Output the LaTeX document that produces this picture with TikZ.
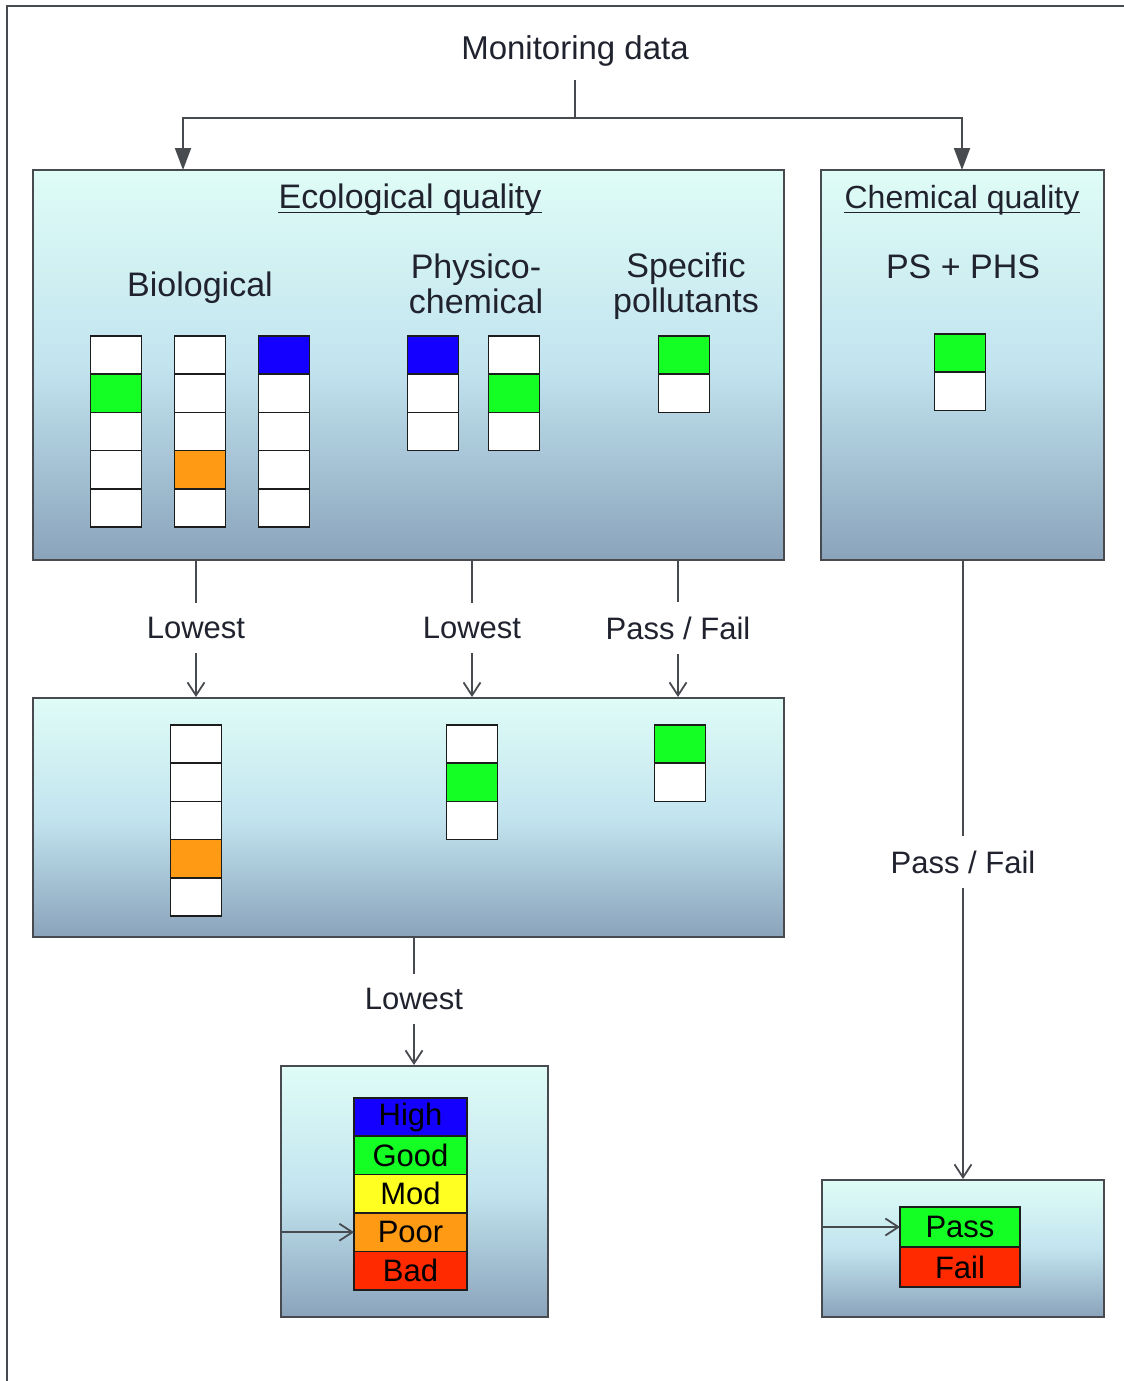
\documentclass[tikz,border=0pt]{standalone}
\usepackage{fontspec}
\setmainfont{Liberation Sans}
\usetikzlibrary{arrows.meta,positioning}
\definecolor{cInk}{HTML}{20222E}
\definecolor{cEdge}{HTML}{474B50}
\definecolor{cCell}{HTML}{1C1C1C}
\definecolor{cTop}{HTML}{DFFCF6}
\definecolor{cMid}{HTML}{C2E4EF}
\definecolor{cBot}{HTML}{8AA3BB}
\definecolor{cHigh}{HTML}{1400FF}
\definecolor{cGood}{HTML}{14FF24}
\definecolor{cMod}{HTML}{FFFF22}
\definecolor{cPoor}{HTML}{FF9A14}
\definecolor{cBad}{HTML}{FF2A00}
\tikzset{
  frame/.style={draw=cEdge,line width=0.9pt},
  panel/.style={draw=cEdge,line width=1pt,top color=cTop,bottom color=cBot,middle color=cMid,inner sep=0pt},
  cell/.style={draw=cCell,line width=0.8pt,minimum width=25.5pt,minimum height=19.1pt,inner sep=0pt,outer sep=0pt},
  grade/.style={cell,minimum width=56.5pt,minimum height=19.2pt,font=\fontsize{15.5}{16}\selectfont,text=black},
  head/.style={font=\fontsize{16.5}{18}\selectfont,text=cInk,inner ysep=6.5pt},
  title/.style={font=\fontsize{17}{18}\selectfont,text=cInk,inner sep=0pt},
  uline/.style={draw=cInk,line width=0.6pt},
  sub/.style={font=\fontsize{17}{17.5}\selectfont,text=cInk,align=center},
  flowlbl/.style={font=\fontsize{15.5}{16}\selectfont,text=cInk,inner ysep=7pt},
  conn/.style={draw=cEdge,line width=1pt},
  tri/.style={conn,-{Triangle[length=11pt,width=8pt]}},
  barb/.style={draw=cEdge,line width=0.9pt,-{Straight Barb[length=6.5pt,width=8.5pt]}},
}
% one column of grade cells: name, x, top y, fill colours
\newcommand{\gradebar}[4]{%
  \foreach \clr [count=\k] in {#4}
    \node[cell,fill=\clr] (#1-\k) at (#2,{#3+38.2*(\k-0.5)}) {};}

\begin{document}
\begin{tikzpicture}[x=0.5pt,y=-0.5pt]
  \useasboundingbox (0,0) rectangle (1124,1381);
  \draw[frame] (7,1381) -- (7,6) -- (1124,6);

  % source and split
  \node[head] (mon) at (575,51) {Monitoring data};
  \coordinate (split) at (575,118);
  \coordinate (ecoin) at (183,170);
  \coordinate (chemin) at (962,170);

  % panels
  \node[panel,minimum width=375.5pt,minimum height=195pt] (eco) at (408.5,365) {};
  \node[panel,minimum width=141.5pt,minimum height=195pt] (chem) at (962.5,365) {};
  \node[panel,minimum width=375.5pt,minimum height=119.5pt] (mid) at (408.5,817.5) {};
  \node[panel,minimum width=133.5pt,minimum height=125.5pt] (scl) at (414.5,1191.5) {};
  \node[panel,minimum width=141pt,minimum height=68.5pt] (pf) at (963,1248.5) {};

  \draw[conn] (mon.south) -- (split);
  \draw[tri] (split) -| (ecoin);
  \draw[tri] (split) -| (chemin);

  % headings
  \node[title] (ecot) at (410,200) {Ecological quality};
  \node[title,font=\fontsize{16}{18}\selectfont] (chemt) at (962,200) {Chemical quality};
  \draw[uline] ([yshift=-2pt]ecot.base west) -- ([yshift=-2pt]ecot.base east);
  \draw[uline] ([yshift=-2pt]chemt.base west) -- ([yshift=-2pt]chemt.base east);
  \node[sub] (bio) at (200,288) {Biological};
  \node[sub] (phy) at (476,284) {Physico-\\chemical};
  \node[sub] (spec) at (686,286) {Specific\\pollutants};
  \node[sub] (ps) at (963,267) {PS + PHS};

  % quality elements
  \gradebar{bioA}{116}{336}{white,cGood,white,white,white}
  \gradebar{bioB}{200}{336}{white,white,white,cPoor,white}
  \gradebar{bioC}{284}{336}{cHigh,white,white,white,white}
  \gradebar{phyA}{433}{336}{cHigh,white,white}
  \gradebar{phyB}{514}{336}{white,cGood,white}
  \gradebar{spcA}{684}{336}{cGood,white}
  \gradebar{chmA}{960}{334}{cGood,white}

  % combined per group
  \gradebar{midA}{196}{725}{white,white,white,cPoor,white}
  \gradebar{midB}{472}{725}{white,cGood,white}
  \gradebar{midC}{680}{725}{cGood,white}

  % rules
  \node[flowlbl] (lowA) at (196,628) {Lowest};
  \node[flowlbl] (lowB) at (472,628) {Lowest};
  \node[flowlbl] (pfA) at (678,628) {Pass / Fail};
  \node[flowlbl] (lowC) at (414,999) {Lowest};
  \node[flowlbl] (pfB) at (963,862) {Pass / Fail};

  \draw[conn] (lowA |- eco.south) -- (lowA);
  \draw[barb] (lowA) -- (lowA |- mid.north);
  \draw[conn] (lowB |- eco.south) -- (lowB);
  \draw[barb] (lowB) -- (lowB |- mid.north);
  \draw[conn] (pfA |- eco.south) -- (pfA);
  \draw[barb] (pfA) -- (pfA |- mid.north);
  \draw[conn] (lowC |- mid.south) -- (lowC);
  \draw[barb] (lowC) -- (lowC |- scl.north);
  \draw[conn] (pfB |- chem.south) -- (pfB);
  \draw[barb] (pfB) -- (pfB |- pf.north);

  % ecological status scale
  \node[grade,fill=cHigh] (high) at (410.5,1117) {High};
  \node[grade,fill=cGood,below=0pt of high] (good) {Good};
  \node[grade,fill=cMod,below=0pt of good] (mod) {Mod};
  \node[grade,fill=cPoor,below=0pt of mod] (poor) {Poor};
  \node[grade,fill=cBad,below=0pt of poor] (bad) {Bad};
  \draw[barb] (poor.west -| scl.west) -- (poor.west);

  % chemical status
  \node[grade,fill=cGood,minimum width=60pt,minimum height=20pt] (pass) at (960,1227) {Pass};
  \node[grade,fill=cBad,minimum width=60pt,minimum height=20pt,below=0pt of pass] (fail) {Fail};
  \draw[barb] (pass.west -| pf.west) -- (pass.west);
\end{tikzpicture}
\end{document}
